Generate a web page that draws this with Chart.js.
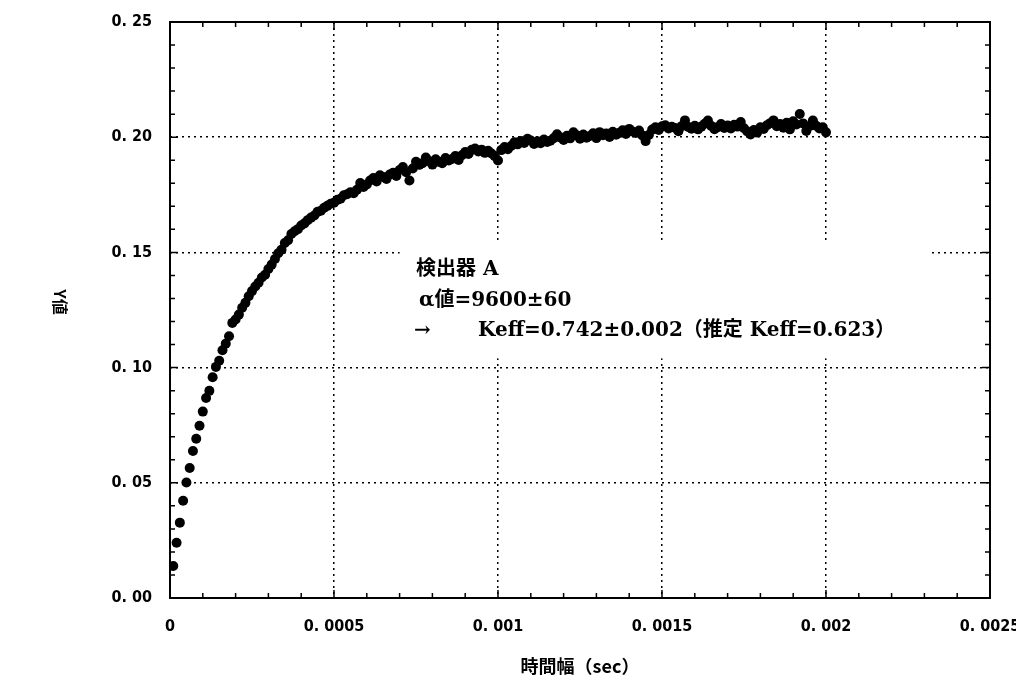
<!DOCTYPE html>
<html lang="ja">
<head>
<meta charset="utf-8">
<title>Y値</title>
<script src="https://cdn.jsdelivr.net/npm/chart.js@4.4.1/dist/chart.umd.min.js"></script>
<style>
  html, body { margin: 0; padding: 0; background: #fff; }
</style>
</head>
<body>
<canvas id="chart" width="1016" height="682"></canvas>
<script>
// sampling step of the gate width (sec); point i sits at (i + 1) * gateStep
const gateStep = 0.00001;

// measured Y values, one per gate width
const yValues = [
  0.0139, 0.0240, 0.0327, 0.0422, 0.0501, 0.0564, 0.0638, 0.0691, 0.0748, 0.0809,
  0.0868, 0.0899, 0.0958, 0.1003, 0.1030, 0.1075, 0.1104, 0.1136, 0.1194, 0.1209,
  0.1230, 0.1260, 0.1281, 0.1310, 0.1332, 0.1352, 0.1368, 0.1391, 0.1403, 0.1428,
  0.1447, 0.1471, 0.1496, 0.1512, 0.1541, 0.1553, 0.1580, 0.1592, 0.1601, 0.1617,
  0.1626, 0.1640, 0.1651, 0.1660, 0.1676, 0.1681, 0.1694, 0.1702, 0.1711, 0.1716,
  0.1728, 0.1733, 0.1748, 0.1752, 0.1761, 0.1757, 0.1772, 0.1801, 0.1784, 0.1795,
  0.1812, 0.1823, 0.1808, 0.1835, 0.1827, 0.1819, 0.1838, 0.1846, 0.1832, 0.1858,
  0.1871, 0.1848, 0.1812, 0.1864, 0.1893, 0.1880, 0.1887, 0.1912, 0.1896, 0.1881,
  0.1904, 0.1893, 0.1887, 0.1910, 0.1899, 0.1905, 0.1918, 0.1901, 0.1922, 0.1936,
  0.1927, 0.1945, 0.1951, 0.1938, 0.1946, 0.1932, 0.1941, 0.1929, 0.1918, 0.1899,
  0.1944, 0.1957, 0.1948, 0.1962, 0.1978, 0.1969, 0.1984, 0.1975, 0.1993, 0.1986,
  0.1971, 0.1982, 0.1974, 0.1990, 0.1979, 0.1985, 0.1996, 0.2013, 0.1999, 0.1988,
  0.2006, 0.1995, 0.2021, 0.2008, 0.1993, 0.2012, 0.1998, 0.2005, 0.2017, 0.1996,
  0.2022, 0.2009, 0.2016, 0.2001, 0.2024, 0.2011, 0.2019, 0.2030, 0.2014, 0.2036,
  0.2025, 0.2018, 0.2029, 0.2007, 0.1983, 0.2010, 0.2033, 0.2043, 0.2031, 0.2047,
  0.2052, 0.2038, 0.2045, 0.2040, 0.2026, 0.2048, 0.2073, 0.2044, 0.2037, 0.2050,
  0.2034, 0.2046, 0.2058, 0.2072, 0.2049, 0.2035, 0.2043, 0.2057, 0.2040, 0.2051,
  0.2038, 0.2054, 0.2046, 0.2066, 0.2039, 0.2025, 0.2012, 0.2031, 0.2020, 0.2043,
  0.2036, 0.2052, 0.2061, 0.2073, 0.2048, 0.2057, 0.2041, 0.2063, 0.2034, 0.2069,
  0.2055, 0.2101, 0.2060, 0.2027, 0.2048, 0.2072, 0.2050, 0.2038, 0.2043, 0.2021
];

const xTicks = [0, 0.0005, 0.001, 0.0015, 0.002, 0.0025];
const xTickLabels = ["0", "0. 0005", "0. 001", "0. 0015", "0. 002", "0. 0025"];
const yTicks = [0, 0.05, 0.10, 0.15, 0.20, 0.25];
const yTickLabels = ["0. 00", "0. 05", "0. 10", "0. 15", "0. 20", "0. 25"];
const xMinorStep = 0.0001;
const yMinorStep = 0.01;

const noteLines = ["検出器 A", "α値=9600±60", "Keff=0.742±0.002（推定 Keff=0.623）"];

const tickFont = { family: '"DejaVu Sans Condensed", "Liberation Sans", sans-serif', size: 16, weight: "bold" };
const noteFont = 'bold 20px "DejaVu Serif", "Liberation Serif", "Noto Sans CJK JP", serif';

const points = yValues.map((v, i) => ({ x: (i + 1) * gateStep, y: v }));

// hide the dotted grid at the frame edges, the frame is drawn solid
const gridColor = max => ctx => (ctx.tick && (ctx.tick.value === 0 || Math.abs(ctx.tick.value - max) < 1e-12)) ? "rgba(0,0,0,0)" : "#000";

// frame, inward tick marks, y title and the text note
const decorations = {
    id: "decorations",
    beforeDatasetsDraw(chart) {
        const { ctx, chartArea: a, scales: { x, y } } = chart;
        ctx.save();

        // note box blanks the grid underneath it
        const bx0 = x.getPixelForValue(0.0007), bx1 = x.getPixelForValue(0.00232);
        const by0 = y.getPixelForValue(0.155), by1 = y.getPixelForValue(0.104);
        ctx.fillStyle = "#fff";
        ctx.fillRect(bx0, by0, bx1 - bx0, by1 - by0);

        ctx.strokeStyle = "#000";
        ctx.lineWidth = 2;
        ctx.strokeRect(a.left, a.top, a.right - a.left, a.bottom - a.top);

        ctx.lineWidth = 1.5;
        ctx.beginPath();
        for (let k = 0; k <= 25; k++) {
            const len = k % 5 === 0 ? 8 : 5;
            const px = x.getPixelForValue(k * xMinorStep);
            ctx.moveTo(px, a.bottom); ctx.lineTo(px, a.bottom - len);
            ctx.moveTo(px, a.top); ctx.lineTo(px, a.top + len);
            const py = y.getPixelForValue(k * yMinorStep);
            ctx.moveTo(a.left, py); ctx.lineTo(a.left + len, py);
            ctx.moveTo(a.right, py); ctx.lineTo(a.right - len, py);
        }
        ctx.stroke();

        // note text
        ctx.fillStyle = "#000";
        ctx.textBaseline = "middle";
        ctx.textAlign = "left";
        ctx.font = noteFont;
        const nx = x.getPixelForValue(0.00075);
        const ny = y.getPixelForValue(0.1425);
        ctx.fillText(noteLines[0], nx, ny);
        ctx.fillText(noteLines[1], nx + 3, ny + 31);
        ctx.fillText("→", nx - 2, ny + 61);
        ctx.fillText(noteLines[2], nx + 62, ny + 61);

        // y axis title
        ctx.font = 'bold 16px "Noto Sans CJK JP", sans-serif';
        ctx.textAlign = "center";
        ctx.translate(60, (a.top + a.bottom) / 2 - 8);
        ctx.rotate(Math.PI / 2);
        ctx.fillText("Y値", 0, 0);
        ctx.restore();
    }
};

new Chart(document.getElementById("chart"), {
    type: "scatter",
    data: {
        datasets: [{
            data: points,
            pointRadius: 5,
            pointHoverRadius: 5,
            pointBackgroundColor: "#000",
            pointBorderWidth: 0,
            showLine: false
        }]
    },
    options: {
        responsive: false,
        animation: false,
        layout: { padding: { top: 22, right: 26, left: 0, bottom: 0 } },
        plugins: { legend: { display: false }, tooltip: { enabled: false } },
        scales: {
            x: {
                type: "linear", min: 0, max: 0.0025,
                afterBuildTicks: s => { s.ticks = xTicks.map(v => ({ value: v })); },
                afterFit: s => { s.height = 84; s.paddingLeft = 0; s.paddingRight = 0; },
                grid: { color: gridColor(0.0025), lineWidth: 1.5, drawTicks: false },
                border: { display: false, dash: [2, 4] },
                ticks: {
                    padding: 19, maxRotation: 0, autoSkip: false, color: "#000", font: tickFont,
                    callback: (v, i) => xTickLabels[i]
                },
                title: {
                    display: true, text: "時間幅（sec）", color: "#000",
                    font: { family: '"Noto Sans CJK JP", sans-serif', size: 18, weight: "bold" },
                    padding: { top: 0, bottom: 5 }
                }
            },
            y: {
                type: "linear", min: 0, max: 0.25,
                afterBuildTicks: s => { s.ticks = yTicks.map(v => ({ value: v })); },
                afterFit: s => { s.width = 170; s.paddingTop = 0; s.paddingBottom = 0; },
                grid: { color: gridColor(0.25), lineWidth: 1.5, drawTicks: false },
                border: { display: false, dash: [2, 4] },
                ticks: {
                    padding: 18, color: "#000", font: tickFont,
                    callback: (v, i) => yTickLabels[i]
                }
            }
        }
    },
    plugins: [decorations]
});
</script>
</body>
</html>
